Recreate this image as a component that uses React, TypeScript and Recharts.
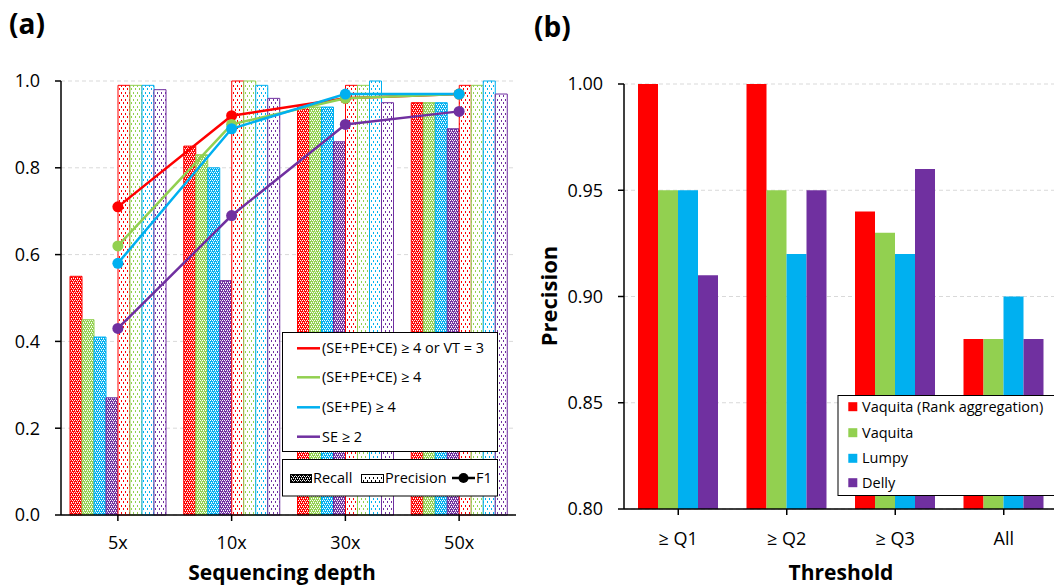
import React from "react";
import { ComposedChart, BarChart, Bar, Line, XAxis, YAxis, CartesianGrid } from "recharts";

// panel (a)
const depths = ["5x", "10x", "30x", "50x"];
const methodNames = ["(SE+PE+CE) ≥ 4 or VT = 3", "(SE+PE+CE) ≥ 4", "(SE+PE) ≥ 4", "SE ≥ 2"];
const recallVT = [0.55, 0.85, 0.94, 0.95];
const recallSPC = [0.45, 0.83, 0.94, 0.95];
const recallSP = [0.41, 0.8, 0.94, 0.95];
const recallSE = [0.27, 0.54, 0.86, 0.89];
const precisionVT = [0.99, 1.0, 0.99, 0.99];
const precisionSPC = [0.99, 1.0, 0.99, 0.99];
const precisionSP = [0.99, 0.99, 1.0, 1.0];
const precisionSE = [0.98, 0.96, 0.95, 0.97];
const f1VT = [0.71, 0.92, 0.96, 0.97];
const f1SPC = [0.62, 0.9, 0.96, 0.97];
const f1SP = [0.58, 0.89, 0.97, 0.97];
const f1SE = [0.43, 0.69, 0.9, 0.93];
const ticksA = [0, 0.2, 0.4, 0.6, 0.8, 1.0];

// panel (b)
const thresholds = ["≥ Q1", "≥ Q2", "≥ Q3", "All"];
const toolNames = ["Vaquita (Rank aggregation)", "Vaquita", "Lumpy", "Delly"];
const rankAgg = [1.0, 1.0, 0.94, 0.88];
const vaquita = [0.95, 0.95, 0.93, 0.88];
const lumpy = [0.95, 0.92, 0.92, 0.9];
const delly = [0.91, 0.95, 0.96, 0.88];
const ticksB = [0.8, 0.85, 0.9, 0.95, 1.0];

const colors = ["#FF0000", "#92D050", "#00B0F0", "#7030A0"];
const FONT = "'Open Sans', sans-serif";

const recalls = [recallVT, recallSPC, recallSP, recallSE];
const precisions = [precisionVT, precisionSPC, precisionSP, precisionSE];
const f1s = [f1VT, f1SPC, f1SP, f1SE];

const dataA = depths.map((d, i) => {
  const row: Record<string, any> = { depth: d };
  for (let k = 0; k < 4; k++) {
    row[`r${k}`] = recalls[k][i];
    row[`p${k}`] = precisions[k][i];
    row[`f${k}`] = f1s[k][i];
  }
  return row;
});

const dataB = thresholds.map((t, i) => ({
  threshold: t,
  b0: rankAgg[i],
  b1: vaquita[i],
  b2: lumpy[i],
  b3: delly[i],
}));

if (typeof document !== "undefined") document.body.style.margin = "0";

// hatch fills: recall = fine checker, precision = sparse dots on white
function Patterns({ color, id }: { color: string; id: string }) {
  return (
    <>
      <pattern id={`rec-${id}`} width="4" height="4" patternUnits="userSpaceOnUse">
        <rect width="4" height="4" fill={color} />
        <rect x="0" y="0" width="1" height="1" fill="#fff" />
        <rect x="2" y="0" width="1" height="1" fill="#fff" />
        <rect x="1" y="1" width="1" height="1" fill="#fff" opacity={0.6} />
        <rect x="1" y="2" width="1" height="1" fill="#fff" />
        <rect x="3" y="2" width="1" height="1" fill="#fff" />
        <rect x="3" y="3" width="1" height="1" fill="#fff" opacity={0.6} />
      </pattern>
      <pattern id={`pre-${id}`} width="4" height="7" patternUnits="userSpaceOnUse">
        <rect width="4" height="7" fill="#fff" />
        <rect x="1" y="1" width="1" height="2" fill={color} />
        <rect x="3" y="4" width="1" height="2" fill={color} />
      </pattern>
    </>
  );
}

const axisStroke = { stroke: "#000", strokeWidth: 1.5 };

export default function App() {
  return (
    <div style={{ position: "relative", width: 1054, height: 588, overflow: "hidden", background: "#fff", fontFamily: FONT }}>
      <div style={{ position: "absolute", left: 0, top: 0 }}>
        <ComposedChart width={530} height={588} data={dataA} margin={{ top: 81, right: 14, bottom: 13, left: 0 }} barGap={0}>
          <defs>
            {colors.map((c, i) => (
              <Patterns key={i} color={c} id={`a${i}`} />
            ))}
          </defs>
          <CartesianGrid vertical={false} stroke="#d9d9d9" strokeDasharray="4 3" />
          <XAxis
            dataKey="depth"
            height={60}
            interval={0}
            axisLine={axisStroke}
            tickLine={axisStroke}
            tickMargin={15}
            tick={{ fill: "#000", fontSize: 18, fontFamily: FONT }}
          />
          <YAxis
            width={61}
            domain={[0, 1]}
            ticks={ticksA}
            interval={0}
            tickFormatter={(v: number) => v.toFixed(1)}
            axisLine={axisStroke}
            tickLine={axisStroke}
            tickMargin={15}
            tick={{ fill: "#000", fontSize: 18, fontFamily: FONT }}
          />
          {colors.map((c, k) => (
            <Bar key={`r${k}`} dataKey={`r${k}`} barSize={12} fill={`url(#rec-a${k})`} stroke={c} strokeWidth={1} isAnimationActive={false} />
          ))}
          {colors.map((c, k) => (
            <Bar key={`p${k}`} dataKey={`p${k}`} barSize={12} fill={`url(#pre-a${k})`} stroke={c} strokeWidth={1} isAnimationActive={false} />
          ))}
          {colors.map((c, k) => (
            <Line
              key={`f${k}`}
              type="linear"
              dataKey={`f${k}`}
              stroke={c}
              strokeWidth={2.5}
              dot={{ r: 5.5, fill: c, stroke: c, strokeWidth: 0 }}
              activeDot={false}
              isAnimationActive={false}
            />
          ))}
        </ComposedChart>
      </div>

      <div style={{ position: "absolute", left: 520, top: 0 }}>
        <BarChart width={560} height={588} data={dataB} margin={{ top: 84, right: 22, bottom: 19, left: 0 }} barGap={0}>
          <CartesianGrid vertical={false} stroke="#d9d9d9" strokeDasharray="4 3" />
          <XAxis
            dataKey="threshold"
            height={60}
            interval={0}
            axisLine={axisStroke}
            tickLine={axisStroke}
            tickMargin={17}
            tick={{ fill: "#000", fontSize: 18, fontFamily: FONT }}
          />
          <YAxis
            width={104}
            domain={[0.8, 1]}
            ticks={ticksB}
            interval={0}
            tickFormatter={(v: number) => v.toFixed(2)}
            axisLine={axisStroke}
            tickLine={axisStroke}
            tickMargin={15}
            tick={{ fill: "#000", fontSize: 18, fontFamily: FONT }}
          />
          {colors.map((c, k) => (
            <Bar key={`b${k}`} dataKey={`b${k}`} barSize={20} fill={c} isAnimationActive={false} />
          ))}
        </BarChart>
      </div>

      <svg width={1054} height={588} style={{ position: "absolute", left: 0, top: 0, pointerEvents: "none", fontFamily: FONT }}>
        <defs>
          <Patterns color="#000" id="k" />
        </defs>
        <text x={9} y={34} fontSize={28} fontWeight={700}>(a)</text>
        <text x={534} y={37} fontSize={28} fontWeight={700}>(b)</text>
        <text x={282} y={580} fontSize={21} fontWeight={700} textAnchor="middle">Sequencing depth</text>
        <text x={841} y={580} fontSize={21} fontWeight={700} textAnchor="middle">Threshold</text>
        <text x={0} y={0} fontSize={22} fontWeight={700} textAnchor="middle" transform="translate(557,296) rotate(-90)">Precision</text>

        {/* legend (a): methods */}
        <rect x={282.5} y={332.5} width={215} height={119} fill="#fff" stroke="#000" />
        {methodNames.map((m, i) => {
          const cy = [348.3, 377.3, 407.3, 436.7][i];
          return (
            <g key={m}>
              <line x1={297} x2={320} y1={cy} y2={cy} stroke={colors[i]} strokeWidth={2.5} />
              <text x={322} y={cy + 5} fontSize={14.5}>{m}</text>
            </g>
          );
        })}
        {/* legend (a): measures */}
        <rect x={282.5} y={459.5} width={215} height={36.5} fill="#fff" stroke="#000" />
        <rect x={290.5} y={474.5} width={21} height={8} fill="url(#rec-k)" stroke="#000" />
        <text x={313} y={483} fontSize={14.5}>Recall</text>
        <rect x={361.5} y={474.5} width={22} height={8} fill="url(#pre-k)" stroke="#000" />
        <text x={385} y={483} fontSize={14.5}>Precision</text>
        <line x1={452} x2={475} y1={478} y2={478} stroke="#000" strokeWidth={2.5} />
        <circle cx={463.5} cy={478} r={5} fill="#000" />
        <text x={476} y={483} fontSize={14.5}>F1</text>

        {/* legend (b) */}
        <rect x={838} y={395.5} width={240} height={100} fill="#fff" stroke="#000" />
        {toolNames.map((t, i) => {
          const cy = [406.7, 432.7, 458.3, 482.7][i];
          return (
            <g key={t}>
              <rect x={848.3} y={cy - 4.5} width={9} height={9} fill={colors[i]} />
              <text x={862} y={cy + 5} fontSize={14.5}>{t}</text>
            </g>
          );
        })}
      </svg>
    </div>
  );
}
